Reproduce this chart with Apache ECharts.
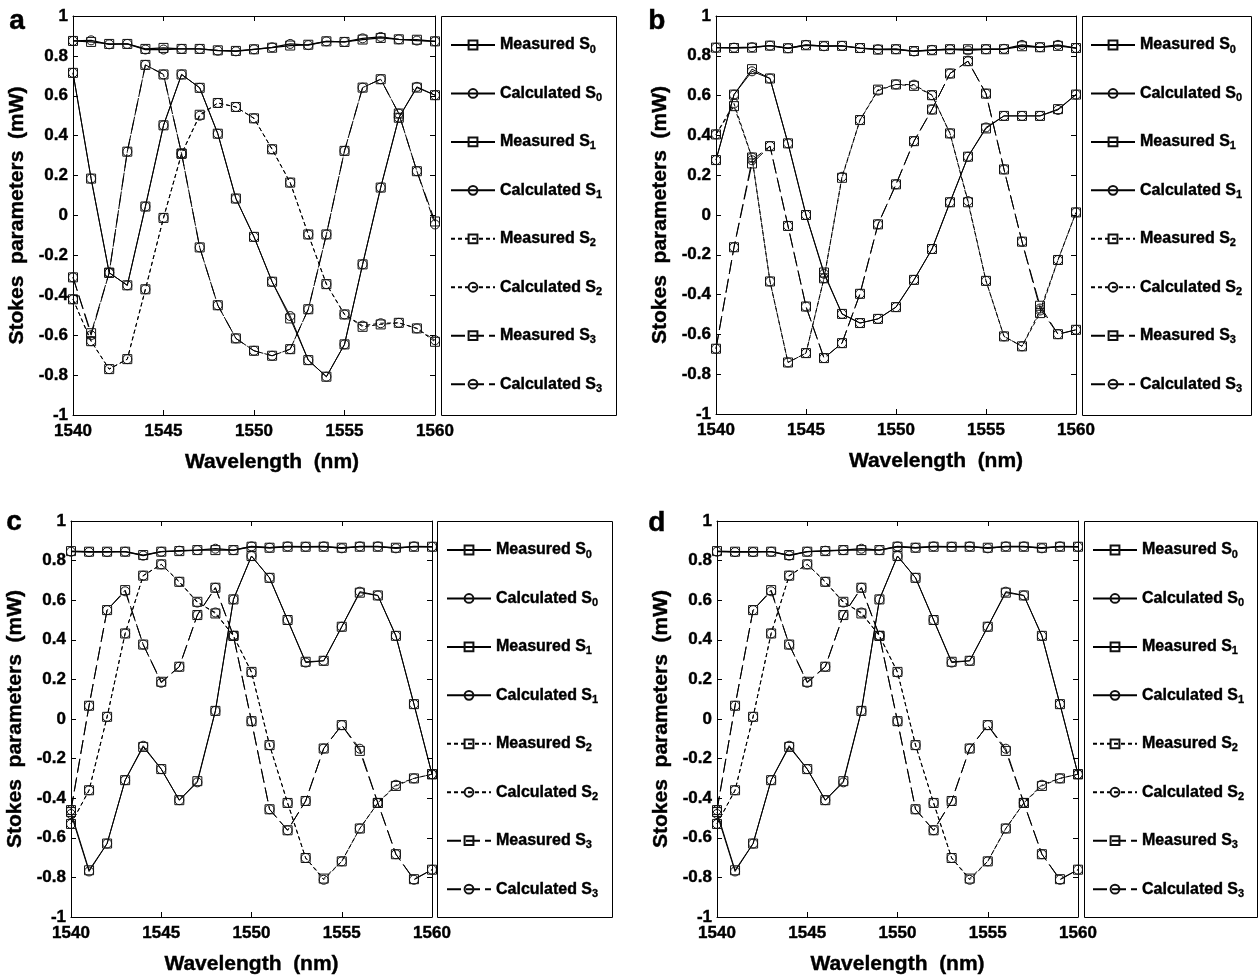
<!DOCTYPE html>
<html><head><meta charset="utf-8">
<script src="https://cdn.jsdelivr.net/npm/echarts@6/dist/echarts.min.js"></script>
<style>html,body{margin:0;padding:0;background:#fff}#c{width:1258px;height:980px}</style>
</head><body><div id="c"></div>
<script>
// ---------------- data ----------------
const wavelengths = [1540,1541,1542,1543,1544,1545,1546,1547,1548,1549,1550,1551,1552,1553,1554,1555,1556,1557,1558,1559,1560];
const seriesNames = ['Measured S0','Calculated S0','Measured S1','Calculated S1','Measured S2','Calculated S2','Measured S3','Calculated S3'];

// panel a
const aMeasS0 = [0.875,0.870,0.860,0.860,0.835,0.840,0.835,0.835,0.828,0.825,0.833,0.841,0.852,0.856,0.873,0.870,0.882,0.890,0.883,0.881,0.873];
const aCalcS0 = [0.875,0.878,0.858,0.860,0.832,0.832,0.835,0.835,0.826,0.823,0.833,0.843,0.860,0.854,0.873,0.870,0.888,0.895,0.883,0.877,0.873];
const aMeasS1 = [0.715,0.185,-0.287,-0.350,0.045,0.452,0.707,0.640,0.410,0.085,-0.107,-0.332,-0.516,-0.725,-0.808,-0.646,-0.245,0.140,0.490,0.641,0.603];
const aCalcS1 = [0.715,0.185,-0.287,-0.350,0.045,0.452,0.707,0.640,0.410,0.085,-0.107,-0.332,-0.504,-0.725,-0.808,-0.646,-0.245,0.140,0.490,0.645,0.603];
const aMeasS2 = [-0.420,-0.630,-0.770,-0.720,-0.370,-0.012,0.310,0.505,0.564,0.544,0.487,0.332,0.165,-0.095,-0.344,-0.496,-0.558,-0.546,-0.538,-0.566,-0.633];
const aCalcS2 = [-0.420,-0.630,-0.770,-0.720,-0.370,-0.012,0.310,0.500,0.564,0.544,0.487,0.332,0.165,-0.095,-0.344,-0.496,-0.552,-0.540,-0.538,-0.566,-0.625];
const aMeasS3 = [-0.310,-0.590,-0.287,0.320,0.755,0.707,0.310,-0.160,-0.450,-0.616,-0.678,-0.703,-0.670,-0.470,-0.095,0.324,0.641,0.683,0.511,0.222,-0.030];
const aCalcS3 = [-0.310,-0.600,-0.287,0.320,0.755,0.707,0.310,-0.160,-0.450,-0.616,-0.678,-0.703,-0.670,-0.470,-0.095,0.324,0.641,0.683,0.511,0.222,-0.045];

// panel b
const bMeasS0 = [0.841,0.839,0.841,0.851,0.838,0.853,0.850,0.850,0.839,0.831,0.833,0.824,0.828,0.833,0.833,0.833,0.833,0.848,0.843,0.850,0.839];
const bCalcS0 = [0.841,0.841,0.843,0.851,0.838,0.855,0.848,0.850,0.839,0.833,0.833,0.822,0.830,0.833,0.827,0.833,0.835,0.855,0.843,0.855,0.839];
const bMeasS1 = [0.276,0.605,0.733,0.686,0.360,0.000,-0.289,-0.497,-0.543,-0.522,-0.463,-0.326,-0.171,0.064,0.293,0.435,0.498,0.498,0.498,0.532,0.605];
const bCalcS1 = [0.276,0.605,0.722,0.686,0.360,0.000,-0.295,-0.497,-0.543,-0.522,-0.463,-0.326,-0.171,0.064,0.293,0.440,0.498,0.498,0.498,0.528,0.605];
const bMeasS2 = [0.405,0.547,0.289,-0.334,-0.741,-0.694,-0.318,0.187,0.477,0.630,0.656,0.649,0.602,0.410,0.064,-0.331,-0.610,-0.660,-0.493,-0.226,0.013];
const bCalcS2 = [0.405,0.560,0.289,-0.334,-0.741,-0.694,-0.318,0.192,0.477,0.625,0.656,0.655,0.602,0.410,0.070,-0.331,-0.610,-0.660,-0.480,-0.226,0.013];
const bMeasS3 = [-0.672,-0.162,0.259,0.346,-0.055,-0.460,-0.719,-0.644,-0.396,-0.047,0.154,0.371,0.530,0.711,0.773,0.610,0.229,-0.134,-0.456,-0.599,-0.577];
const bCalcS3 = [-0.672,-0.162,0.275,0.346,-0.055,-0.460,-0.719,-0.644,-0.396,-0.047,0.154,0.371,0.530,0.711,0.773,0.610,0.229,-0.134,-0.470,-0.599,-0.577];

// panel c
const cMeasS0 = [0.848,0.845,0.845,0.845,0.828,0.845,0.848,0.853,0.853,0.853,0.870,0.865,0.870,0.870,0.870,0.865,0.870,0.870,0.865,0.870,0.870];
const cCalcS0 = [0.845,0.843,0.843,0.845,0.825,0.845,0.850,0.853,0.860,0.853,0.872,0.865,0.872,0.870,0.872,0.862,0.872,0.872,0.862,0.872,0.870];
const cMeasS1 = [-0.470,-0.764,-0.629,-0.309,-0.141,-0.253,-0.410,-0.314,0.041,0.604,0.823,0.713,0.500,0.289,0.294,0.466,0.638,0.624,0.420,0.075,-0.279];
const cCalcS1 = [-0.480,-0.770,-0.629,-0.309,-0.135,-0.253,-0.410,-0.320,0.041,0.604,0.823,0.713,0.500,0.285,0.294,0.466,0.643,0.624,0.420,0.075,-0.279];
const cMeasS2 = [-0.530,-0.360,0.011,0.432,0.724,0.781,0.693,0.592,0.533,0.420,0.238,-0.132,-0.424,-0.702,-0.806,-0.719,-0.553,-0.424,-0.338,-0.300,-0.279];
const cCalcS2 = [-0.530,-0.360,0.011,0.432,0.724,0.781,0.693,0.588,0.538,0.420,0.235,-0.132,-0.424,-0.702,-0.812,-0.719,-0.553,-0.424,-0.332,-0.300,-0.279];
const cMeasS3 = [-0.460,0.067,0.550,0.651,0.376,0.188,0.264,0.525,0.663,0.420,-0.011,-0.456,-0.562,-0.414,-0.149,-0.031,-0.161,-0.424,-0.683,-0.809,-0.761];
const cCalcS3 = [-0.460,0.067,0.550,0.645,0.376,0.183,0.264,0.525,0.663,0.420,-0.011,-0.456,-0.562,-0.414,-0.149,-0.031,-0.150,-0.424,-0.683,-0.812,-0.761];

// panel d (same measurements as panel c in the figure)
const dMeasS0 = [0.848,0.845,0.845,0.845,0.828,0.845,0.848,0.853,0.853,0.853,0.870,0.865,0.870,0.870,0.870,0.865,0.870,0.870,0.865,0.870,0.870];
const dCalcS0 = [0.845,0.843,0.843,0.845,0.825,0.845,0.850,0.853,0.860,0.853,0.872,0.865,0.872,0.870,0.872,0.862,0.872,0.872,0.862,0.872,0.870];
const dMeasS1 = [-0.470,-0.764,-0.629,-0.309,-0.141,-0.253,-0.410,-0.314,0.041,0.604,0.823,0.713,0.500,0.289,0.294,0.466,0.638,0.624,0.420,0.075,-0.279];
const dCalcS1 = [-0.480,-0.770,-0.629,-0.309,-0.135,-0.253,-0.410,-0.320,0.041,0.604,0.823,0.713,0.500,0.285,0.294,0.466,0.643,0.624,0.420,0.075,-0.279];
const dMeasS2 = [-0.530,-0.360,0.011,0.432,0.724,0.781,0.693,0.592,0.533,0.420,0.238,-0.132,-0.424,-0.702,-0.806,-0.719,-0.553,-0.424,-0.338,-0.300,-0.279];
const dCalcS2 = [-0.530,-0.360,0.011,0.432,0.724,0.781,0.693,0.588,0.538,0.420,0.235,-0.132,-0.424,-0.702,-0.812,-0.719,-0.553,-0.424,-0.332,-0.300,-0.279];
const dMeasS3 = [-0.460,0.067,0.550,0.651,0.376,0.188,0.264,0.525,0.663,0.420,-0.011,-0.456,-0.562,-0.414,-0.149,-0.031,-0.161,-0.424,-0.683,-0.809,-0.761];
const dCalcS3 = [-0.460,0.067,0.550,0.645,0.376,0.183,0.264,0.525,0.663,0.420,-0.011,-0.456,-0.562,-0.414,-0.149,-0.031,-0.150,-0.424,-0.683,-0.812,-0.761];

// ---------------- layout / style ----------------
const FONT = 'Liberation Sans, Arial, Helvetica, sans-serif';
const panels = [
  {label:'a', lab:[9,21],   xNameShift:36, grid:{left:73, top:16, width:362, height:399}, box:[441,16,175,399], leg:{left:450, top:35},
   data:[aMeasS0,aCalcS0,aMeasS1,aCalcS1,aMeasS2,aCalcS2,aMeasS3,aCalcS3]},
  {label:'b', lab:[648,21], xNameShift:80, grid:{left:716, top:16, width:360, height:398}, box:[1082,16,169,399], leg:{left:1090, top:35},
   data:[bMeasS0,bCalcS0,bMeasS1,bCalcS1,bMeasS2,bCalcS2,bMeasS3,bCalcS3]},
  {label:'c', lab:[6,522],  xNameShift:0, grid:{left:71, top:521, width:361, height:396}, box:[437,521,175,396], leg:{left:446, top:540},
   data:[cMeasS0,cCalcS0,cMeasS1,cCalcS1,cMeasS2,cCalcS2,cMeasS3,cCalcS3]},
  {label:'d', lab:[648,523],xNameShift:0, grid:{left:717, top:521, width:361, height:396}, box:[1084,521,173,396], leg:{left:1092, top:540},
   data:[dMeasS0,dCalcS0,dMeasS1,dCalcS1,dMeasS2,dCalcS2,dMeasS3,dCalcS3]}
];
const lineTypes = [
  {type:'solid', width:1.3}, {type:'solid', width:1.3},
  {type:'solid', width:1},   {type:'solid', width:1},
  {type:[4,3],   width:1},   {type:[4,3],   width:1},
  {type:[14,5],  width:1},   {type:[14,5],  width:1}
];

const grids = [], xAxes = [], yAxes = [], series = [], legends = [], graphics = [];
const axisLineStyle = {color:'#000', width:1};
const heavy = {textBorderColor:'#000', textBorderWidth:0.4};
const labelStyle = Object.assign({color:'#000', fontSize:17, fontWeight:'bold', fontFamily:FONT}, heavy);
const nameStyle = Object.assign({color:'#000', fontSize:21, fontWeight:'bold', fontFamily:FONT}, heavy);

panels.forEach((p, i) => {
  grids.push(Object.assign({containLabel:false}, p.grid));
  xAxes.push({gridIndex:i, type:'value', min:1540, max:1560, interval:5, position:'bottom',
    axisLine:{onZero:false, lineStyle:axisLineStyle}, axisTick:{inside:true, length:5, lineStyle:axisLineStyle},
    axisLabel:Object.assign({margin:8, formatter: v => String(v)}, labelStyle), splitLine:{show:false},
    name:'Wavelength  (nm)', nameLocation:'middle', nameGap:37,
    nameTextStyle:Object.assign({padding:[0,0,0,p.xNameShift]}, nameStyle)});
  xAxes.push({gridIndex:i, type:'value', min:1540, max:1560, interval:5, position:'top',
    axisLine:{onZero:false, lineStyle:axisLineStyle}, axisTick:{inside:true, length:5, lineStyle:axisLineStyle},
    axisLabel:{show:false}, splitLine:{show:false}});
  yAxes.push({gridIndex:i, type:'value', min:-1, max:1, interval:0.2, position:'left',
    axisLine:{onZero:false, lineStyle:axisLineStyle}, axisTick:{inside:true, length:5, lineStyle:axisLineStyle},
    axisLabel:Object.assign({margin:5}, labelStyle), splitLine:{show:false},
    name:'Stokes  parameters  (mW)', nameLocation:'middle', nameGap:45, nameTextStyle:nameStyle});
  yAxes.push({gridIndex:i, type:'value', min:-1, max:1, interval:0.2, position:'right',
    axisLine:{onZero:false, lineStyle:axisLineStyle}, axisTick:{inside:true, length:5, lineStyle:axisLineStyle},
    axisLabel:{show:false}, splitLine:{show:false}});

  p.data.forEach((vals, k) => {
    const lt = lineTypes[k];
    series.push({
      name: seriesNames[k], type:'line', xAxisIndex:2*i, yAxisIndex:2*i,
      data: wavelengths.map((w, j) => [w, vals[j]]),
      symbol: k % 2 === 0 ? 'rect' : 'circle', symbolSize: 9,
      itemStyle:{color:'rgba(255,255,255,0)', borderColor:'#111', borderWidth:1},
      lineStyle:{color:'#000', width:lt.width, type:lt.type},
      emphasis:{disabled:true}, silent:true, animation:false
    });
  });

  legends.push({
    left:p.leg.left, top:p.leg.top, orient:'vertical', padding:0, itemGap:28.3,
    itemWidth:44, itemHeight:11, selectedMode:false,
    data: seriesNames,
    formatter: name => name.replace(/S(\d)$/, 'S{sub|$1}'),
    textStyle:Object.assign({color:'#000', fontSize:16, fontWeight:'bold', fontFamily:FONT, lineHeight:20,
      rich:{sub:{fontSize:11, fontWeight:'bold', fontFamily:FONT, lineHeight:10, verticalAlign:'bottom', color:'#000',
                 textBorderColor:'#000', textBorderWidth:0.3}}}, heavy)
  });

  graphics.push({type:'rect', silent:true,
    shape:{x:p.box[0]+0.5, y:p.box[1]+0.5, width:p.box[2], height:p.box[3]},
    style:{fill:'none', stroke:'#000', lineWidth:1}});
  graphics.push({type:'text', silent:true, left:p.lab[0], top:p.lab[1]-14,
    style:{text:p.label, font:'bold 28px ' + FONT, fill:'#000', stroke:'#000', lineWidth:0.5}});
});

const chart = echarts.init(document.getElementById('c'), null, {renderer:'canvas'});
chart.setOption({
  animation:false, backgroundColor:'#fff',
  grid:grids, xAxis:xAxes, yAxis:yAxes, series:series, legend:legends, graphic:graphics
});
</script></body></html>
